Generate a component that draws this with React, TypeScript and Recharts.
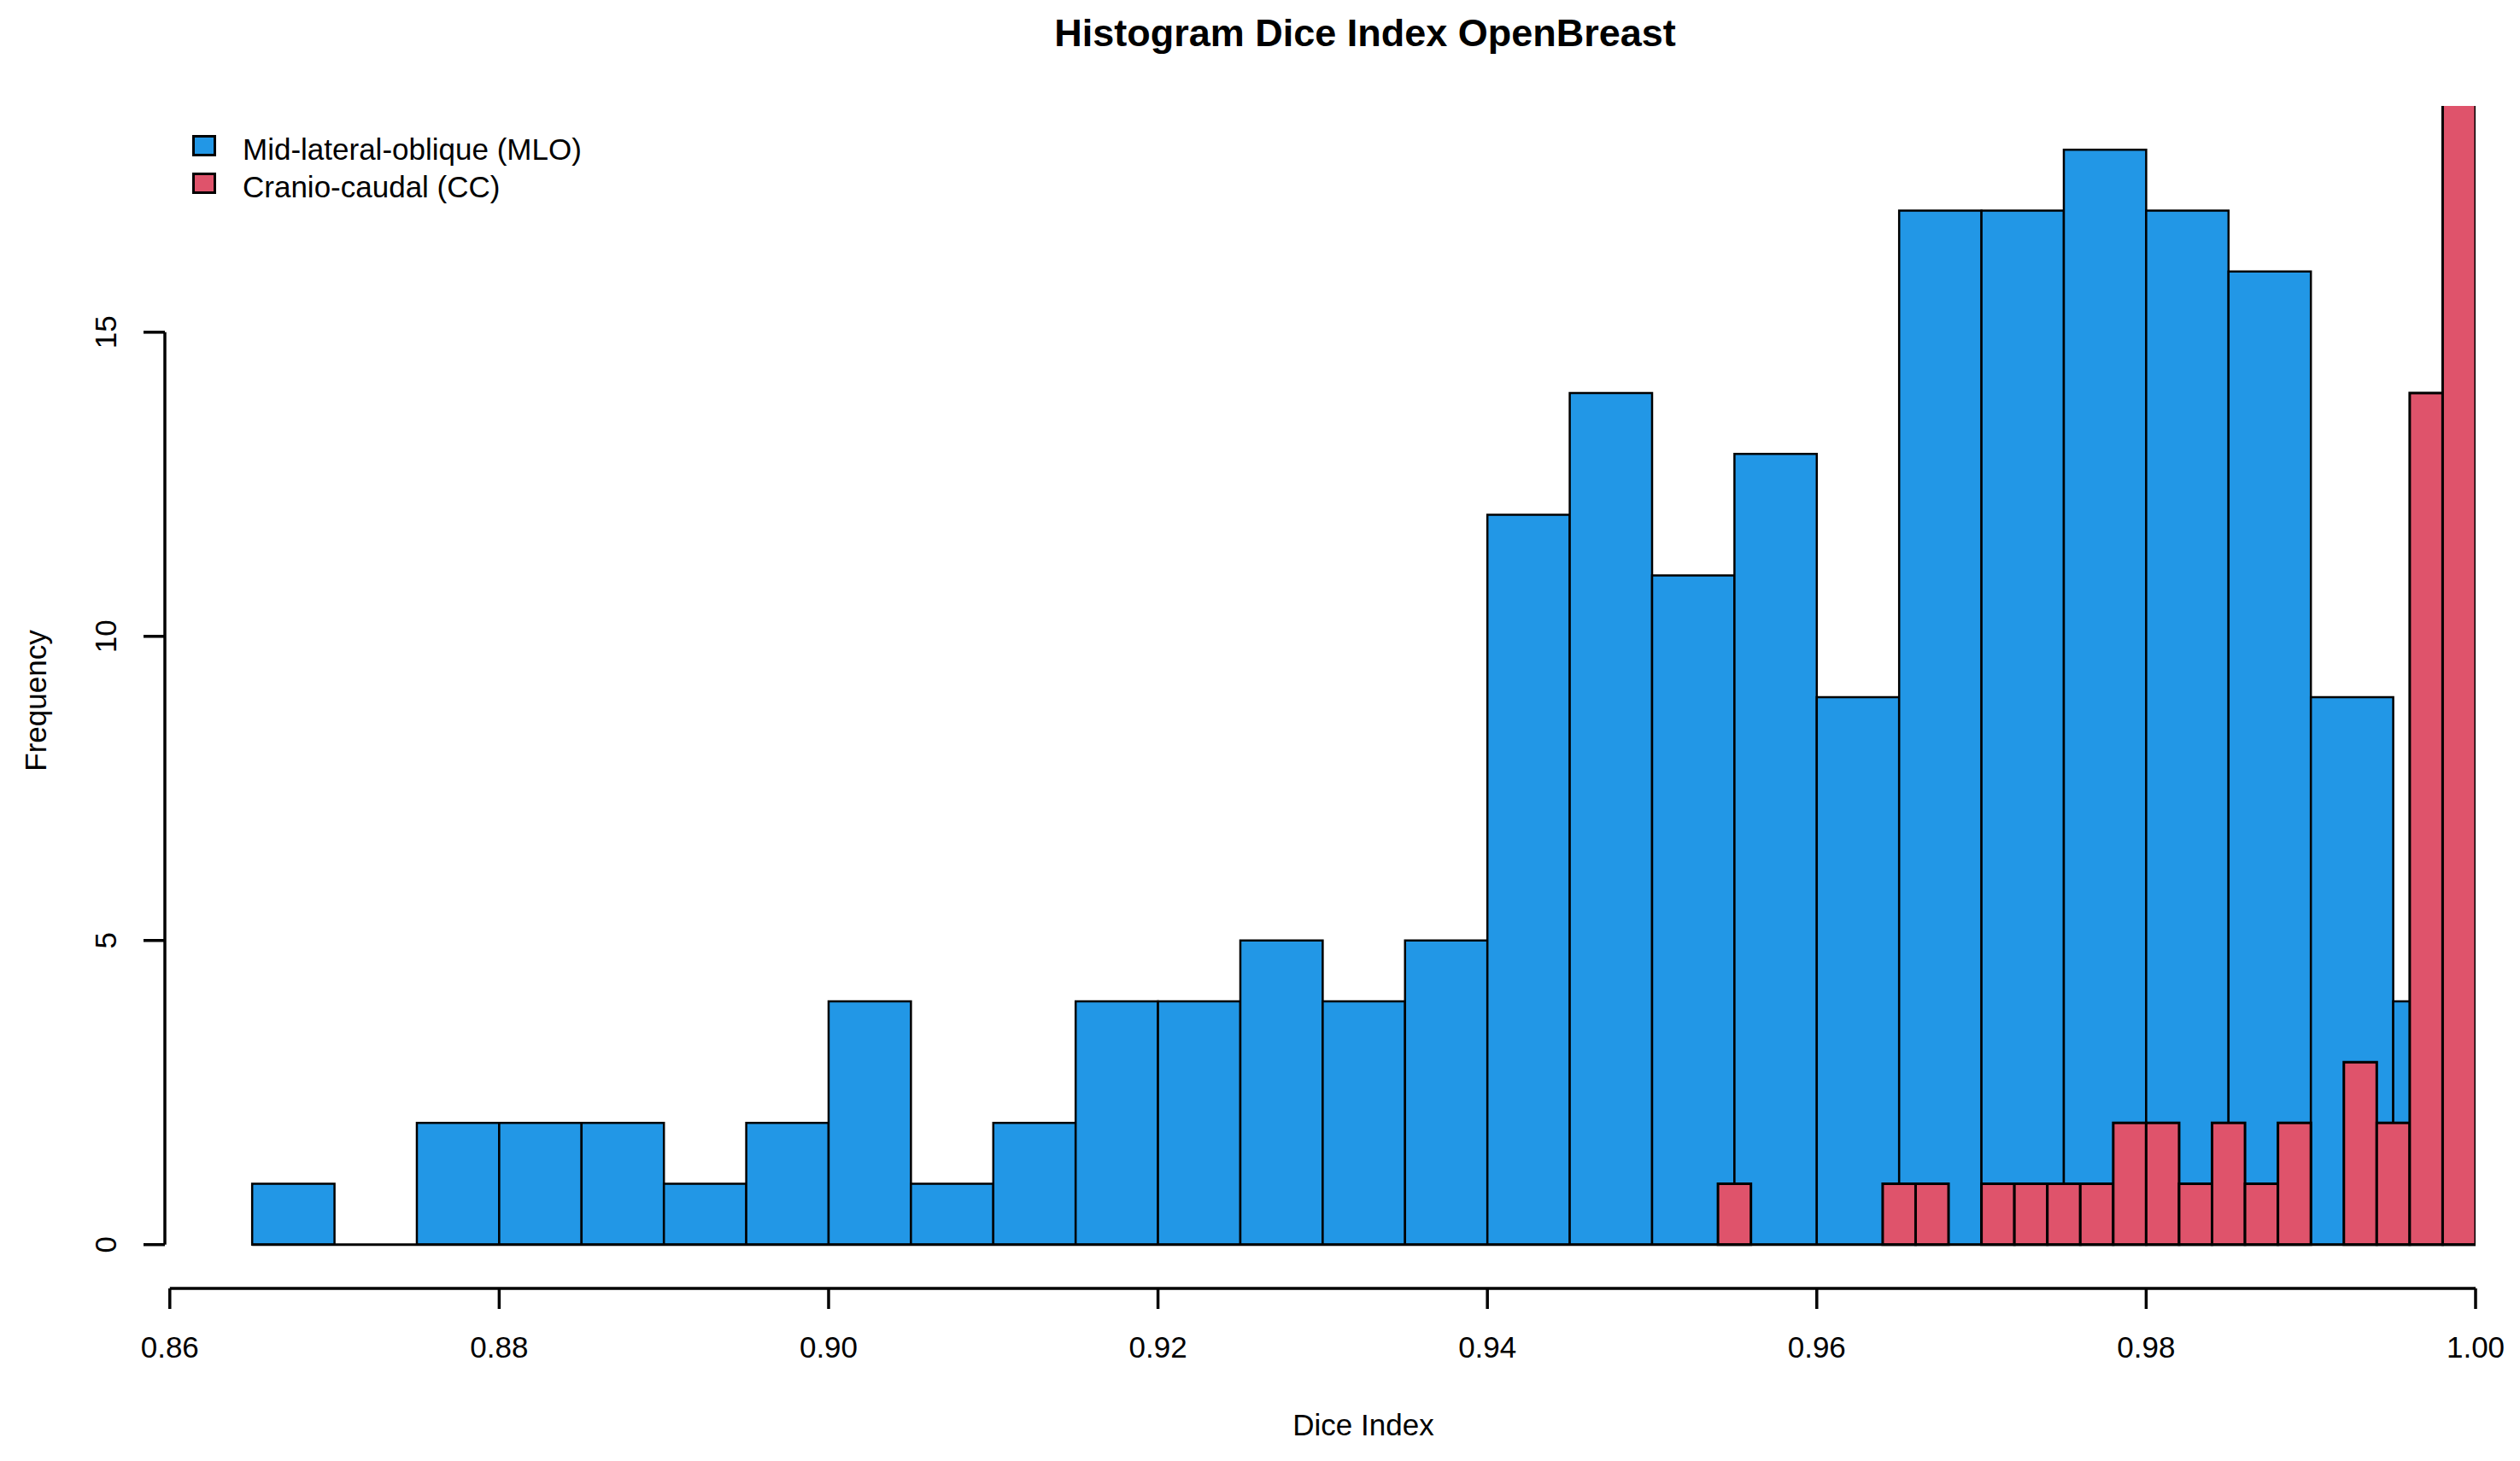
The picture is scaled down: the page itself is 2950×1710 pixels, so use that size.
import {
  ComposedChart,
  XAxis,
  YAxis,
  ReferenceArea,
  ReferenceLine,
} from "recharts";

// histogram bins (R hist output)
const mloBreaks = [
  0.865, 0.87, 0.875, 0.88, 0.885, 0.89, 0.895, 0.9, 0.905, 0.91, 0.915, 0.92, 0.925, 0.93,
  0.935, 0.94, 0.945, 0.95, 0.955, 0.96, 0.965, 0.97, 0.975, 0.98, 0.985, 0.99, 0.995, 1.0,
];
const mloCounts = [1, 0, 2, 2, 2, 1, 2, 4, 1, 2, 4, 4, 5, 4, 5, 12, 14, 11, 13, 9, 17, 17, 18, 17, 16, 9, 4];

const ccBreaks = [
  0.954, 0.956, 0.958, 0.96, 0.962, 0.964, 0.966, 0.968, 0.97, 0.972, 0.974, 0.976, 0.978, 0.98,
  0.982, 0.984, 0.986, 0.988, 0.99, 0.992, 0.994, 0.996, 0.998, 1.0,
];
// last bin is clipped at the top of the plot in the original
const ccCounts = [1, 0, 0, 0, 0, 1, 1, 0, 1, 1, 1, 1, 2, 2, 1, 2, 1, 2, 0, 3, 2, 14, 19];

const xTicks = [0.86, 0.88, 0.9, 0.92, 0.94, 0.96, 0.98, 1.0];
const yTicks = [0, 5, 10, 15];
const xDomain: [number, number] = [0.8597, 1.0];
const yDomain: [number, number] = [-0.72, 18.72];

const MLO_COLOR = "#2297E6";
const CC_COLOR = "#DF536B";
const FONT = "'Liberation Sans', Arial, sans-serif";

const chartData = mloCounts.map((c, i) => ({ x: (mloBreaks[i] + mloBreaks[i + 1]) / 2, mlo: c }));

function YTick(props: any) {
  const { x, y, payload } = props;
  return (
    <text
      x={x}
      y={y}
      transform={`rotate(-90, ${x}, ${y})`}
      textAnchor="middle"
      dominantBaseline="central"
      fontSize={35}
      fontFamily={FONT}
      fill="#000"
    >
      {payload.value}
    </text>
  );
}

export default function App() {
  return (
    <div
      style={{
        position: "absolute",
        left: 0,
        top: 0,
        width: 2950,
        height: 1710,
        background: "#fff",
        fontFamily: FONT,
        color: "#000",
      }}
    >
      <ComposedChart
        width={2950}
        height={1710}
        data={chartData}
        margin={{ top: 124, right: 52, bottom: 102, left: 43 }}
      >
        <XAxis
          type="number"
          dataKey="x"
          domain={xDomain}
          ticks={xTicks}
          interval={0}
          allowDataOverflow
          axisLine={false}
          tickSize={24}
          tickMargin={32}
          tickLine={{ stroke: "#000", strokeWidth: 3.5 }}
          tick={{ fill: "#000", fontSize: 35, fontFamily: FONT }}
          tickFormatter={(v: number) => v.toFixed(2)}
          height={100}
        />
        <YAxis
          type="number"
          domain={yDomain}
          ticks={yTicks}
          interval={0}
          allowDataOverflow
          axisLine={false}
          tickSize={25}
          tickMargin={44}
          tickLine={{ stroke: "#000", strokeWidth: 3.5 }}
          tick={<YTick />}
          width={150}
        />

        {mloCounts.map((c, i) => (
          <ReferenceArea
            key={`mlo-${i}`}
            x1={mloBreaks[i]}
            x2={mloBreaks[i + 1]}
            y1={0}
            y2={c}
            fill={MLO_COLOR}
            fillOpacity={1}
            stroke="#000"
            strokeWidth={2.5}
            ifOverflow="hidden"
          />
        ))}
        {ccCounts.map((c, i) => (
          <ReferenceArea
            key={`cc-${i}`}
            x1={ccBreaks[i]}
            x2={ccBreaks[i + 1]}
            y1={0}
            y2={c}
            fill={CC_COLOR}
            fillOpacity={1}
            stroke="#000"
            strokeWidth={3}
            ifOverflow="hidden"
          />
        ))}

        {/* zero-height bins still draw a baseline in R */}
        <ReferenceLine
          segment={[
            { x: mloBreaks[0], y: 0 },
            { x: mloBreaks[mloBreaks.length - 1], y: 0 },
          ]}
          stroke="#000"
          strokeWidth={3}
          ifOverflow="visible"
        />

        {/* R-style axis lines that only span the tick range */}
        <ReferenceLine
          segment={[
            { x: xTicks[0], y: yDomain[0] },
            { x: xTicks[xTicks.length - 1], y: yDomain[0] },
          ]}
          stroke="#000"
          strokeWidth={3.5}
          ifOverflow="visible"
        />
        <ReferenceLine
          segment={[
            { x: xDomain[0], y: yTicks[0] },
            { x: xDomain[0], y: yTicks[yTicks.length - 1] },
          ]}
          stroke="#000"
          strokeWidth={3.5}
          ifOverflow="visible"
        />
      </ComposedChart>

      <div
        style={{
          position: "absolute",
          left: 1598,
          top: 38,
          transform: "translate(-50%, -50%)",
          fontSize: 45,
          lineHeight: "45px",
          fontWeight: "bold",
          whiteSpace: "nowrap",
        }}
      >
        Histogram Dice Index OpenBreast
      </div>
      <div
        style={{
          position: "absolute",
          left: 1596,
          top: 1667,
          transform: "translate(-50%, -50%)",
          fontSize: 35,
          lineHeight: "35px",
          whiteSpace: "nowrap",
        }}
      >
        Dice Index
      </div>
      <div
        style={{
          position: "absolute",
          left: 41,
          top: 820,
          transform: "translate(-50%, -50%) rotate(-90deg)",
          fontSize: 35,
          lineHeight: "35px",
          whiteSpace: "nowrap",
        }}
      >
        Frequency
      </div>

      {[
        { label: "Mid-lateral-oblique (MLO)", color: MLO_COLOR, top: 158 },
        { label: "Cranio-caudal (CC)", color: CC_COLOR, top: 202 },
      ].map((item) => (
        <div key={item.label}>
          <div
            style={{
              position: "absolute",
              left: 225,
              top: item.top,
              width: 28,
              height: 25,
              boxSizing: "border-box",
              border: "3px solid #000",
              background: item.color,
            }}
          />
          <div
            style={{
              position: "absolute",
              left: 284,
              top: item.top - 1,
              fontSize: 35,
              lineHeight: "35px",
              whiteSpace: "nowrap",
            }}
          >
            {item.label}
          </div>
        </div>
      ))}
    </div>
  );
}
